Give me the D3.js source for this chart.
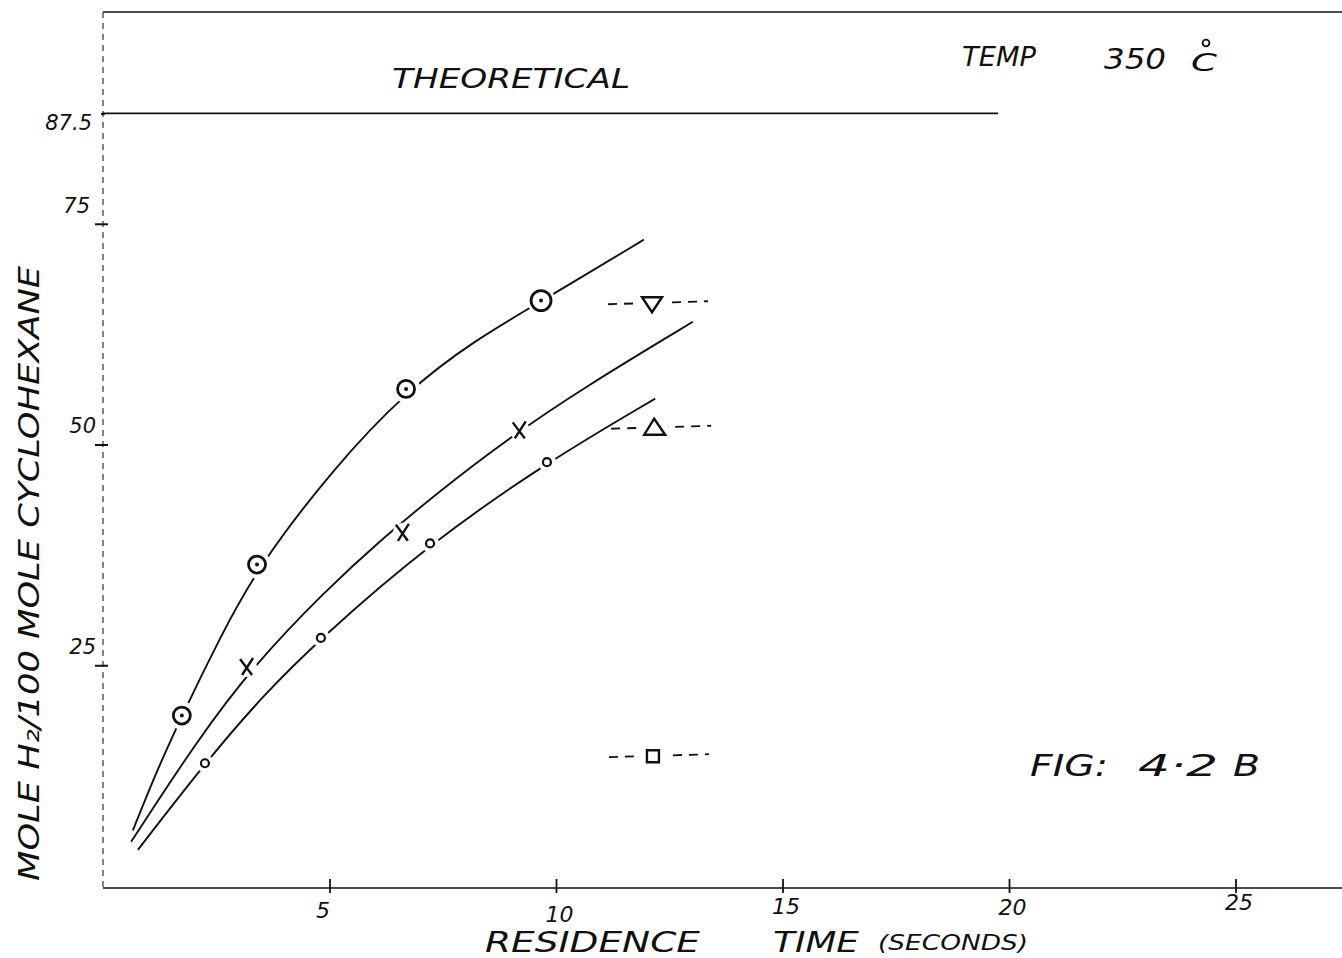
<!DOCTYPE html>
<html>
<head>
<meta charset="utf-8">
<script src="https://cdn.jsdelivr.net/npm/d3@7"></script>
<style>
  html,body{margin:0;padding:0;background:#fff;}
  svg{display:block;}
  text{font-family:"DejaVu Sans",sans-serif;font-style:italic;fill:#111;}
</style>
</head>
<body>
<svg id="chart" width="1342" height="958"></svg>
<script>
// ---- data ----
const xTicks = [5, 10, 15, 20, 25];
const yTicks = [25, 50, 75, 87.5];
const theoreticalValue = 87.5;
const theoreticalEnd = 19.76;

// measured points (residence time s, mole H2 / 100 mole cyclohexane)
const seriesDotCircleT = [1.74, 3.40, 6.69, 9.67];
const seriesDotCircleV = [19.3, 36.4, 56.3, 66.3];
const seriesCrossT = [3.18, 6.62, 9.20];
const seriesCrossV = [24.8, 40.0, 51.6];
const seriesSmallCircleT = [2.25, 4.81, 7.22, 9.80];
const seriesSmallCircleV = [13.9, 28.1, 38.8, 48.0];

// hand-drawn curves (knots)
const curveTopT = [0.66, 1.20, 1.77, 2.60, 3.40, 5.10, 6.69, 8.20, 9.67, 11.94];
const curveTopV = [6.3, 13.2, 19.6, 28.3, 36.0, 47.4, 56.0, 61.8, 66.2, 73.2];
const curveMidT = [0.62, 2.08, 3.33, 4.90, 6.18, 7.40, 8.98, 10.60, 13.02];
const curveMidV = [5.0, 16.5, 25.0, 33.4, 39.4, 44.6, 50.8, 56.4, 63.9];
const curveLowT = [0.77, 2.25, 3.50, 4.81, 7.22, 9.80, 12.19];
const curveLowV = [4.1, 13.9, 21.4, 28.1, 38.8, 48.0, 55.2];

// isolated symbols with dashed leaders
const sideShapes = ["down", "up", "square"];
const sideT = [12.12, 12.19, 12.14];
const sideV = [66.0, 51.9, 14.7];

// ---- drawing ----
const svg = d3.select("#chart");
const W = 1342, H = 958;
const x = d3.scaleLinear().domain([0, 25]).range([103, 1235.5]);
const y = d3.scaleLinear().domain([0, 87.5]).range([886, 113.4]);
const ink = "#111";

// top frame line
svg.append("line")
  .attr("x1", x(0)).attr("x2", W).attr("y1", 12).attr("y2", 12)
  .attr("stroke", ink).attr("stroke-width", 1.6);

// left axis line (faint, broken)
svg.append("line")
  .attr("x1", x(0)).attr("x2", x(0)).attr("y1", 12).attr("y2", y(0) + 2)
  .attr("stroke", "#333").attr("stroke-width", 1.2)
  .attr("stroke-dasharray", "6,5");

// x axis
const xAxis = d3.axisBottom(x).tickValues(xTicks).tickSize(5).tickPadding(11)
  .tickFormat(d3.format("d"));
const gx = svg.append("g").attr("transform", `translate(0,${y(0) + 2})`).call(xAxis);
gx.select(".domain").remove();
gx.append("line").attr("x1", x(0)).attr("x2", W).attr("y1", 0).attr("y2", 0)
  .attr("stroke", ink).attr("stroke-width", 1.6);
gx.selectAll(".tick line").attr("y1", -9).attr("y2", 5).attr("stroke", ink).attr("stroke-width", 1.8);
const xLabelDy = {5: "0.65em", 10: "0.8em", 15: "0.45em", 20: "0.5em", 25: "0.25em"};
gx.selectAll(".tick text").attr("fill", ink).style("font-size", "22px")
  .style("font-family", "DejaVu Sans").style("font-style", "italic")
  .attr("x", d => d === 5 ? -7 : 3)
  .attr("dy", d => xLabelDy[d]);

// y axis
const yAxis = d3.axisLeft(y).tickValues(yTicks).tickSize(8).tickPadding(10)
  .tickFormat(d => d === 87.5 ? "87.5" : d3.format("d")(d));
const gy = svg.append("g").attr("transform", `translate(${x(0)},0)`).call(yAxis);
gy.select(".domain").remove();
gy.selectAll(".tick line").attr("x2", d => d === 87.5 ? -2 : -8).attr("x1", d => d === 87.5 ? 2 : 5)
  .attr("stroke", ink).attr("stroke-width", 2);
gy.selectAll(".tick text").attr("fill", ink).style("font-size", "21px")
  .style("font-family", "DejaVu Sans").style("font-style", "italic")
  .attr("dy", d => d === 87.5 ? "0.75em" : "-0.55em")
  .attr("x", d => d === 87.5 ? -11 : (d === 75 ? -13 : -7));

// theoretical line
svg.append("line")
  .attr("x1", x(0)).attr("x2", x(theoreticalEnd))
  .attr("y1", y(theoreticalValue)).attr("y2", y(theoreticalValue))
  .attr("stroke", ink).attr("stroke-width", 1.8);

// curves
const line = d3.line().x(d => x(d[0])).y(d => y(d[1])).curve(d3.curveBasis);
const curves = [
  [curveTopT, curveTopV],
  [curveMidT, curveMidV],
  [curveLowT, curveLowV]
];
curves.forEach(([ts, vs]) => {
  svg.append("path").datum(ts.map((t, i) => [t, vs[i]]))
    .attr("d", line).attr("fill", "none").attr("stroke", ink).attr("stroke-width", 1.9);
});

// markers with white halos (gaps in the drawn line)
function halo(cx, cy, r) {
  svg.append("circle").attr("cx", cx).attr("cy", cy).attr("r", r).attr("fill", "#fff");
}
seriesDotCircleT.forEach((t, i) => {
  const cx = x(t), cy = y(seriesDotCircleV[i]);
  halo(cx, cy, 14);
  svg.append("circle").attr("cx", cx).attr("cy", cy).attr("r", i === 3 ? 10 : 8.5)
    .attr("fill", "none").attr("stroke", ink).attr("stroke-width", 2.8);
  svg.append("circle").attr("cx", cx).attr("cy", cy).attr("r", 2).attr("fill", ink);
});
seriesCrossT.forEach((t, i) => {
  const cx = x(t), cy = y(seriesCrossV[i]);
  halo(cx, cy, 10);
  svg.append("path")
    .attr("d", `M${cx - 7},${cy - 8}L${cx + 5},${cy + 8}M${cx + 6},${cy - 9}L${cx - 5},${cy + 8}`)
    .attr("stroke", ink).attr("stroke-width", 2.4).attr("fill", "none");
});
seriesSmallCircleT.forEach((t, i) => {
  const cx = x(t), cy = y(seriesSmallCircleV[i]);
  halo(cx, cy, 9);
  svg.append("circle").attr("cx", cx).attr("cy", cy).attr("r", 4)
    .attr("fill", "none").attr("stroke", ink).attr("stroke-width", 2.2);
});

// side symbols
sideShapes.forEach((s, i) => {
  const cx = x(sideT[i]), cy = y(sideV[i]);
  svg.append("line").attr("x1", cx - 44).attr("x2", cx + 56).attr("y1", cy + 1).attr("y2", cy - 2)
    .attr("stroke", ink).attr("stroke-width", 1.8).attr("stroke-dasharray", "9,7");
  halo(cx, cy, 13);
  let d;
  if (s === "down") d = `M${cx - 10},${cy - 6}L${cx + 10},${cy - 6}L${cx},${cy + 9}Z`;
  else if (s === "up") d = `M${cx - 11},${cy + 7}L${cx + 10},${cy + 7}L${cx - 1},${cy - 9}Z`;
  else d = `M${cx - 6},${cy - 6}L${cx + 6},${cy - 6}L${cx + 6},${cy + 6}L${cx - 6},${cy + 6}Z`;
  svg.append("path").attr("d", d).attr("fill", "none").attr("stroke", ink).attr("stroke-width", 2.4);
});

// texts
function txt(xp, yp, size, str, len) {
  const t = svg.append("text").attr("x", xp).attr("y", yp).style("font-size", size + "px").text(str);
  if (len) t.attr("textLength", len).attr("lengthAdjust", "spacingAndGlyphs");
  return t;
}
txt(392, 88, 27, "THEORETICAL", 238);
txt(962, 66, 26, "TEMP", 74);
txt(1104, 69, 28, "350", 62);
txt(1191, 71, 25, "C", 26);
svg.append("circle").attr("cx", 1206).attr("cy", 43).attr("r", 3.4)
  .attr("fill", "none").attr("stroke", ink).attr("stroke-width", 1.8);
txt(1030, 776, 30, "FIG:", 78);
txt(1138, 776, 30, "4·2", 80);
txt(1233, 776, 30, "B", 27);

txt(485, 952, 28, "RESIDENCE", 215);
txt(773, 952, 28, "TIME", 86);
txt(878, 950, 22, "(SECONDS)", 150);

svg.append("text")
  .attr("transform", `translate(39,${(265 + 882) / 2}) rotate(-90)`)
  .attr("text-anchor", "middle").style("font-size", "29px")
  .attr("textLength", 615).attr("lengthAdjust", "spacingAndGlyphs")
  .text("MOLE H₂/100 MOLE CYCLOHEXANE");
</script>
</body>
</html>
